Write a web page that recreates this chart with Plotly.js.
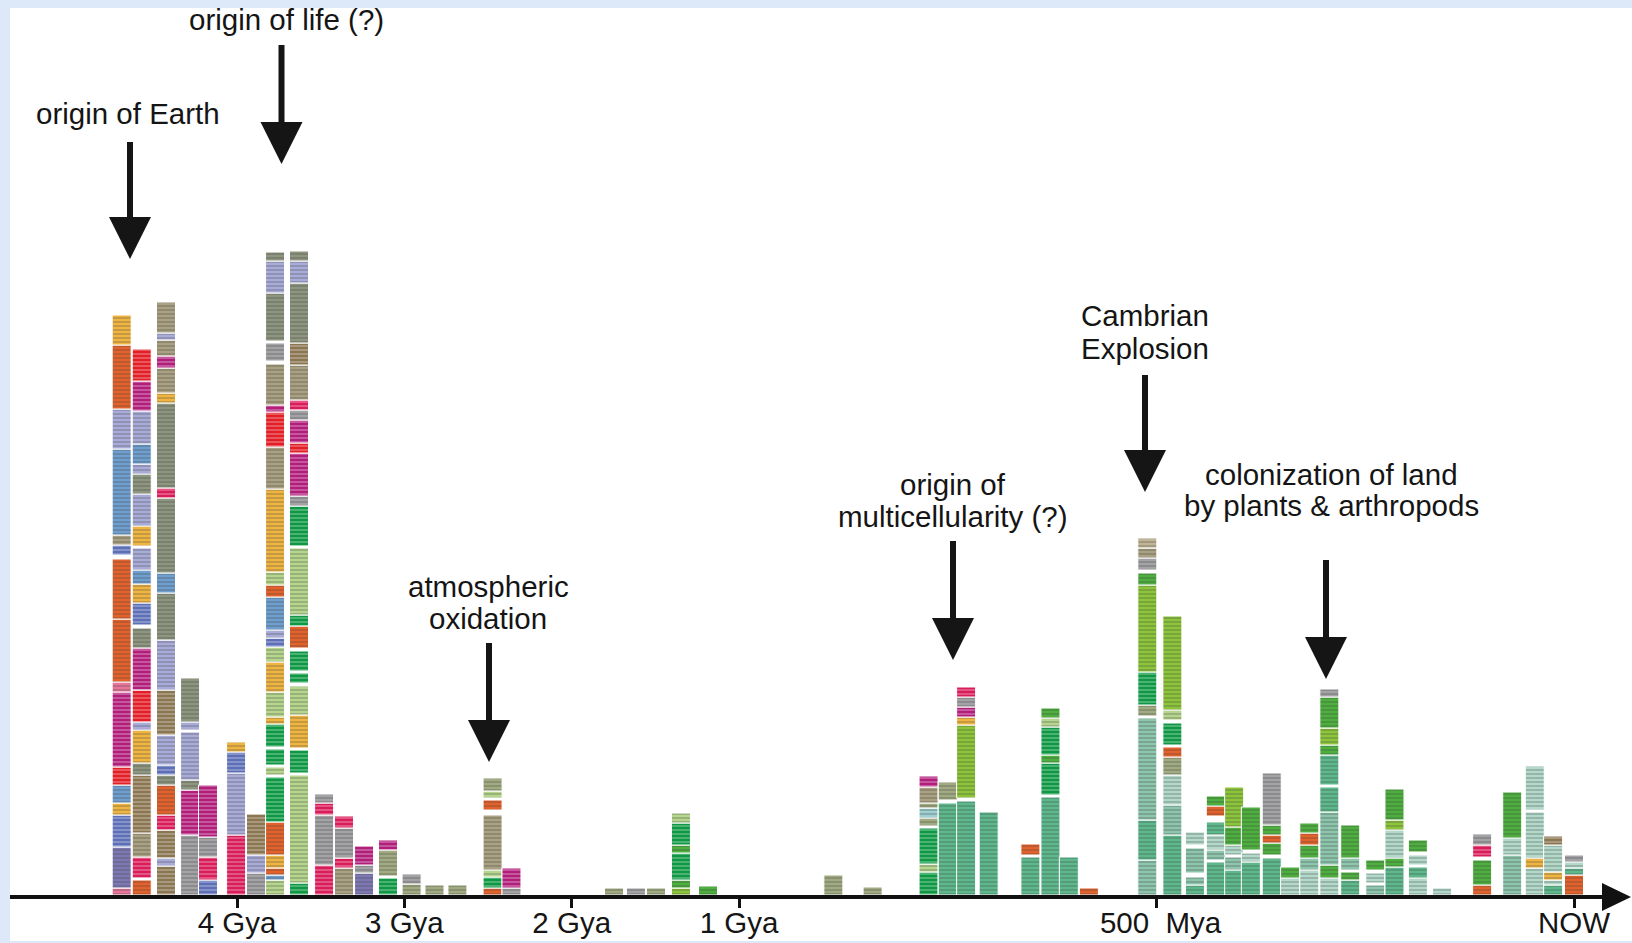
<!DOCTYPE html>
<html>
<head>
<meta charset="utf-8">
<script src="https://cdn.plot.ly/plotly-3.0.1.min.js"></script>
<style>
  html, body { margin: 0; padding: 0; background: #dde9f8; }
  #chart { width: 1632px; height: 943px; }
</style>
</head>
<body>
<div id="chart"></div>
<script>
// ---------------- DATA ----------------
// Column positions: age in millions of years ago (Mya)
const COL_TIMES_MYA = [4690, 4570, 4425, 4281, 4174, 4006, 3887, 3773, 3630, 3480,
  3361, 3241, 3098, 2957, 2820, 2683, 2473, 2360,
  1747, 1616, 1496, 1347, 1185,
  887, 840,
  773, 750, 728, 701, 651, 627, 605, 581,
  511, 481, 454, 429, 407, 387, 362, 340, 317, 293, 268, 238, 215, 187, 158,
  110, 74, 47, 25, 0];

// Stacked blocks in each column, bottom -> top: <category key><size>; "_" = blank gap
const COL_SEGMENTS = [
  "P7 U41 B32 Y12 S18 R18 M75 P10 O63 O60 _4 B10 K10 S86 L40 O64 Y30",
  "O15 _2 C21 K24 W58 E12 Y33 L8 R32 M42 E20 _3 B22 Y19 S14 L22 _2 Y20 L32 E20 L10 S20 L33 M30 R32",
  "W29 L8 W28 C15 O30 E10 B10 L30 W45 L50 E47 S20 E75 C10 E85 Y10 K25 M12 K16 L7 K31",
  "G60 M45 E10 L48 _2 L8 E44",
  "B15 C23 G20 M52",
  "C60 L62 B21 Y10",
  "G22 L18 W41",
  "l15 S5 O7 Y13 O33 D45 _2 l8 _2 D16 _2 D23 Y7 l25 Y30 l15 B9 L8 S33 O12 l13 Y83 K42 R35 M7 K41 _3 G18 _2 E48 L32 E9",
  "D12 l108 _2 D23 _2 Y33 l29 _3 D10 _2 D20 _3 O22 D11 l67 _2 D40 G10 M43 R10 M23 G10 C10 K35 W22 E60 L22 E10",
  "C30 G50 C12 G9",
  "K27 C10 G30 C12",
  "U22 G8 M19",
  "D17 _2 A26 M10",
  "A11 G10",
  "A10",
  "A10",
  "O7 D11 l7 K55 _5 O10 _2 l7 A13",
  "G7 M20",
  "A7",
  "G7",
  "A7",
  "V7 g8 D27 g8 D22 l10",
  "g9",
  "A20",
  "A8",
  "D23 l8 D36 _2 A8 Q10 A5 K16 M11",
  "T92 _3 A18",
  "T94 _3 V73 Y8 M10 G10 C10",
  "T83",
  "T38 _2 O11",
  "T98 _2 D32 g8 D28 l9 g10",
  "T38",
  "O7",
  "X35 T40 X102 _2 A11 D33 V87 g12 _3 G12 K10 k10",
  "T60 X30 t30 A18 O10 _2 D22 _3 l10 V94",
  "T10 X8 _4 X25 _3 t13",
  "T33 _2 X10 t15 T13 _6 O10 g10",
  "T25 X13 _2 t10 g18 V40",
  "T33 t9 _3 g43",
  "T37 _3 g12 O8 g10 G52",
  "t17 g11",
  "t25 X12 g13 O12 g10",
  "t17 g13 X53 T25 _2 T30 g10 V17 g31 G8",
  "T15 g8 _2 X12 g33",
  "X10 _2 t10 _3 g10",
  "T28 g9 t28 V10 g31",
  "t17 T11 _2 t10 _3 g12",
  "t7",
  "O10 g25 _3 C12 G11",
  "X40 t17 g46",
  "t27 Y10 t46 _2 t44",
  "T10 t5 Y8 t27 W9",
  "O20 T7 t6 G7"
];

// Category colours
const CATEGORY_COLORS = {
  Y: "#f0b441", O: "#e3612b", R: "#e21f26", M: "#b11f7b", C: "#d91d5a", P: "#e9759b",
  L: "#a9acd8", S: "#6e9fcf", B: "#5d6fb7", U: "#7d78b3",
  K: "#aaa082", k: "#c1b596", W: "#8b7652", G: "#a3a3a5", E: "#8e9680", A: "#a0ab82",
  l: "#b5d68c", D: "#0f9844", V: "#8cc43a", g: "#4caf3e",
  T: "#5db98c", X: "#8ec5ad", t: "#b3d9cb", Q: "#9fd0d2"
};

// Axis ticks
const TICK_TIMES_MYA = [4000, 3000, 2000, 1000, 500, 0];
const TICK_LABELS = ["4 Gya", "3 Gya", "2 Gya", "1 Gya", "\u00a0500\u00a0\u00a0Mya", "NOW"];

// Event annotations (text lines + arrow), positions in page pixels
const EVENTS = [
  { lines: ["origin of Earth"], tx: 128, ty: [114], ax: 130, shaftTop: 142, headTop: 217, tip: 259 },
  { lines: ["origin of life (?)"], tx: 286, ty: [19], ax: 281.5, shaftTop: 45, headTop: 122, tip: 164 },
  { lines: ["atmospheric", "oxidation"], tx: 488, ty: [586, 618], ax: 489, shaftTop: 643, headTop: 720, tip: 762 },
  { lines: ["origin of", "multicellularity (?)"], tx: 953, ty: [484, 516], ax: 953, shaftTop: 541, headTop: 618, tip: 660 },
  { lines: ["Cambrian", "Explosion"], tx: 1145, ty: [315, 348], ax: 1145, shaftTop: 375, headTop: 450, tip: 492 },
  { lines: ["colonization of land", "by plants & arthropods"], tx: 1331, ty: [474, 506], ax: 1326, shaftTop: 560, headTop: 637, tip: 679 }
];

// ---------------- LAYOUT CONSTANTS ----------------
const W = 1632, H = 943, BASE_PX = 895;
// broken time axis: Gyr section compressed, last billion years expanded
function timeToX(t) { return t >= 1000 ? 739 - (t - 1000) * 0.1673 : 1574 - t * 0.835; }
const px = x => x / W;
const py = y => (BASE_PX - y) / BASE_PX;

// ---------------- BUILD BARS ----------------
const bx = [], bbase = [], bh = [], bcol = [];
COL_TIMES_MYA.forEach((t, i) => {
  let acc = 0;
  COL_SEGMENTS[i].split(/\s+/).forEach(tok => {
    const key = tok[0], h = parseFloat(tok.slice(1));
    if (key !== "_") {
      bx.push(timeToX(t)); bbase.push(acc); bh.push(h); bcol.push(CATEGORY_COLORS[key]);
    }
    acc += h;
  });
});

const trace = {
  type: "bar", x: bx, y: bh, base: bbase, width: 19,
  marker: {
    color: bcol,
    line: { color: "#ffffff", width: 1 },
    pattern: { shape: "-", size: 4, solidity: 0.25, fgcolor: "rgba(255,255,255,0.16)", fillmode: "overlay" }
  },
  hoverinfo: "skip"
};

// ---------------- SHAPES & ANNOTATIONS ----------------
const FONT = "Liberation Sans, Arial, Helvetica, sans-serif";
const FS = 29.5;
const shapes = [
  { type: "rect", xref: "paper", yref: "paper", x0: px(10), x1: 1, y0: py(941), y1: py(8),
    fillcolor: "#ffffff", line: { width: 0 }, layer: "below" },
  // axis line + arrow head
  { type: "line", xref: "paper", yref: "paper", x0: px(10), x1: px(1606), y0: py(897), y1: py(897),
    line: { color: "#111111", width: 4 } },
  { type: "path", xref: "paper", yref: "paper",
    path: `M ${px(1602)} ${py(883)} L ${px(1631)} ${py(897)} L ${px(1602)} ${py(911)} Z`,
    fillcolor: "#111111", line: { width: 0 } }
];
const annotations = [];
EVENTS.forEach(ev => {
  ev.lines.forEach((txt, k) => annotations.push({
    xref: "paper", yref: "paper", x: px(ev.tx), y: py(ev.ty[k]), text: txt, showarrow: false,
    xanchor: "center", yanchor: "middle", font: { family: FONT, size: FS, color: "#151515" }
  }));
  shapes.push({ type: "line", xref: "paper", yref: "paper", x0: px(ev.ax), x1: px(ev.ax),
    y0: py(ev.shaftTop), y1: py(ev.headTop + 2), line: { color: "#151515", width: 6 } });
  shapes.push({ type: "path", xref: "paper", yref: "paper",
    path: `M ${px(ev.ax - 21)} ${py(ev.headTop)} L ${px(ev.ax + 21)} ${py(ev.headTop)} L ${px(ev.ax)} ${py(ev.tip)} Z`,
    fillcolor: "#151515", line: { width: 0 } });
});

const layout = {
  width: W, height: H,
  margin: { l: 0, r: 0, t: 0, b: H - BASE_PX, pad: 0 },
  paper_bgcolor: "#dde9f8", plot_bgcolor: "rgba(0,0,0,0)",
  barmode: "overlay", showlegend: false,
  xaxis: {
    range: [0, W], showgrid: false, zeroline: false, showline: false, fixedrange: true,
    tickmode: "array", tickvals: TICK_TIMES_MYA.map(timeToX), ticktext: TICK_LABELS,
    ticks: "outside", ticklen: 12, tickwidth: 3, tickcolor: "#111111",
    ticklabelstandoff: -10,
    tickfont: { family: FONT, size: FS, color: "#151515" }
  },
  yaxis: { range: [0, BASE_PX], visible: false, fixedrange: true },
  shapes: shapes, annotations: annotations
};

Plotly.newPlot("chart", [trace], layout, { staticPlot: true, displayModeBar: false });
</script>
</body>
</html>
